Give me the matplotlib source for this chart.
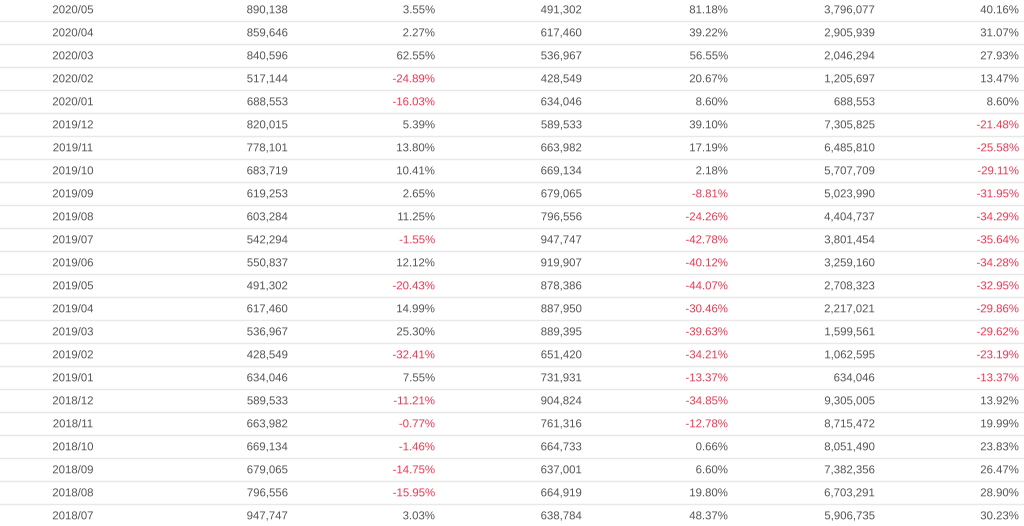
import matplotlib.pyplot as plt
import matplotlib.patheffects as pe

# table data, newest month first
months = ['2020/05', '2020/04', '2020/03', '2020/02', '2020/01', '2019/12',
          '2019/11', '2019/10', '2019/09', '2019/08', '2019/07', '2019/06',
          '2019/05', '2019/04', '2019/03', '2019/02', '2019/01', '2018/12',
          '2018/11', '2018/10', '2018/09', '2018/08', '2018/07']
sales = [890138, 859646, 840596, 517144, 688553, 820015, 778101, 683719,
         619253, 603284, 542294, 550837, 491302, 617460, 536967, 428549,
         634046, 589533, 663982, 669134, 679065, 796556, 947747]
mom = [3.55, 2.27, 62.55, -24.89, -16.03, 5.39, 13.80, 10.41, 2.65, 11.25,
       -1.55, 12.12, -20.43, 14.99, 25.30, -32.41, 7.55, -11.21, -0.77,
       -1.46, -14.75, -15.95, 3.03]
last_year = [491302, 617460, 536967, 428549, 634046, 589533, 663982, 669134,
             679065, 796556, 947747, 919907, 878386, 887950, 889395, 651420,
             731931, 904824, 761316, 664733, 637001, 664919, 638784]
yoy = [81.18, 39.22, 56.55, 20.67, 8.60, 39.10, 17.19, 2.18, -8.81, -24.26,
       -42.78, -40.12, -44.07, -30.46, -39.63, -34.21, -13.37, -34.85,
       -12.78, 0.66, 6.60, 19.80, 48.37]
ytd = [3796077, 2905939, 2046294, 1205697, 688553, 7305825, 6485810, 5707709,
       5023990, 4404737, 3801454, 3259160, 2708323, 2217021, 1599561, 1062595,
       634046, 9305005, 8715472, 8051490, 7382356, 6703291, 5906735]
ytd_yoy = [40.16, 31.07, 27.93, 13.47, 8.60, -21.48, -25.58, -29.11, -31.95,
           -34.29, -35.64, -34.28, -32.95, -29.86, -29.62, -23.19, -13.37,
           13.92, 19.99, 23.83, 26.47, 28.90, 30.23]

txt = '#555555'
red = '#f5334f'

fig = plt.figure(figsize=(10.24, 5.26), dpi=100)
ax = fig.add_axes([0, 0, 1, 1])
ax.set_xlim(0, 1024)
ax.set_ylim(526, 0)
ax.axis('off')

pitch = 23.0
first = 9.0
fs = 8.2
font = 'Liberation Sans'


def cell(x, y, s, ha='right', color=txt):
    # drawn as paths so the glyphs are not snapped to pixels -> rows line up
    ax.text(x, y + 4.3, s, ha=ha, va='baseline', fontsize=fs, color=color,
            family=font, path_effects=[pe.Normal()])


for i, m in enumerate(months):
    y = first + i * pitch
    if i < len(months) - 1:
        ax.axhline(y + 11.5, color='#e8e8e8', lw=1.0)
    cell(73, y, m, ha='center')
    cell(288, y, f'{sales[i]:,}')
    cell(435, y, f'{mom[i]:.2f}%', color=red if mom[i] < 0 else txt)
    cell(582, y, f'{last_year[i]:,}')
    cell(728, y, f'{yoy[i]:.2f}%', color=red if yoy[i] < 0 else txt)
    cell(875, y, f'{ytd[i]:,}')
    cell(1019, y, f'{ytd_yoy[i]:.2f}%', color=red if ytd_yoy[i] < 0 else txt)

fig.savefig('out.png', dpi=100)
